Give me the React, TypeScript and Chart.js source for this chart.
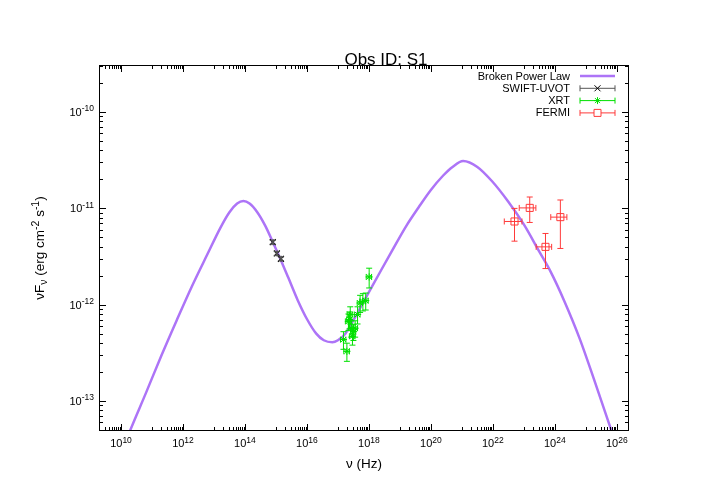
import React, { useEffect, useRef } from "react";
import { Chart, registerables } from "chart.js";

Chart.register(...registerables);

// ---------- data ----------
const titleText = "Obs ID: S1";
const xLabelText = "ν (Hz)";

// Broken power law model curve (Hz, erg cm^-2 s^-1)
const curveNu = [
  1.0e10, 2.0e10, 6.3e10, 2.0e11, 6.3e11, 2.0e12, 6.3e12, 1.58e13, 3.16e13, 5.6e13,
  8.9e13, 1.41e14, 2.5e14, 4.5e14, 7.9e14, 1.41e15, 2.5e15, 5.0e15, 1.0e16, 2.0e16,
  3.5e16, 6.6e16, 1.0e17, 1.74e17, 4.0e17, 1.0e18, 2.5e18, 5.5e18, 1.58e19, 4.0e19,
  1.0e20, 2.5e20, 5.0e20, 1.1e21, 3.16e21, 9.3e21, 3.16e22, 1.0e23, 3.16e23, 7.1e23,
  2.0e24, 6.3e24, 2.0e25, 6.9e25, 1.26e26,
];
const curveF = [
  2.82e-14, 5.0e-14, 1.2e-13, 2.95e-13, 6.9e-13, 1.58e-12, 3.39e-12, 6.2e-12, 9.1e-12, 1.12e-11,
  1.19e-11, 1.12e-11, 9.1e-12, 6.6e-12, 4.47e-12, 2.95e-12, 1.91e-12, 1.12e-12, 7.1e-13, 5.0e-13,
  4.27e-13, 4.07e-13, 4.27e-13, 5.0e-13, 7.9e-13, 1.35e-12, 2.29e-12, 3.59e-12, 6.5e-12, 1.02e-11,
  1.55e-11, 2.19e-11, 2.69e-11, 3.09e-11, 2.69e-11, 1.92e-11, 1.17e-11, 6.8e-12, 3.55e-12, 2.24e-12,
  1.1e-12, 4.47e-13, 1.55e-13, 4.8e-14, 2.7e-14,
];

// SWIFT-UVOT
const uvotNu = [7.9e14, 1.07e15, 1.45e15];
const uvotNuErr = [0.4e14, 0.5e14, 0.7e14];
const uvotF = [4.45e-12, 3.4e-12, 2.99e-12];
const uvotFErr = [0.2e-12, 0.15e-12, 0.13e-12];

// XRT
const xrtNu = [1.51e17, 1.95e17, 2.19e17, 2.36e17, 2.5e17, 2.69e17, 2.95e17, 3.17e17, 3.6e17, 4.3e17, 5.2e17, 6.4e17, 7.9e17, 1.02e18];
const xrtNuErr = [0.3e17, 0.4e17, 0.45e17, 0.45e17, 0.5e17, 0.5e17, 0.6e17, 0.6e17, 0.7e17, 0.9e17, 1.0e17, 1.3e17, 1.6e17, 2.0e17];
const xrtF = [4.34e-13, 3.28e-13, 6.7e-13, 7.0e-13, 7.9e-13, 5.7e-13, 4.7e-13, 5.25e-13, 5.7e-13, 7.9e-13, 1.04e-12, 1.08e-12, 1.1e-12, 1.94e-12];
const xrtFErr = [0.9e-13, 0.7e-13, 1.3e-13, 1.4e-13, 1.6e-13, 1.1e-13, 0.9e-13, 1.0e-13, 1.1e-13, 1.6e-13, 2.1e-13, 2.2e-13, 2.2e-13, 0.45e-12];

// FERMI
const fermiNu = [5.0e22, 1.55e23, 5.0e23, 1.51e24];
const fermiNuLo = [2.34e22, 7.1e22, 2.5e23, 7.4e23];
const fermiNuHi = [8.7e22, 2.45e23, 7.9e23, 2.45e24];
const fermiF = [7.3e-12, 1.01e-11, 3.98e-12, 8.1e-12];
const fermiFLo = [4.56e-12, 7.13e-12, 2.37e-12, 3.83e-12];
const fermiFHi = [9.98e-12, 1.31e-11, 5.48e-12, 1.22e-11];

// axes
const xMin = 2.1e9;
const xMax = 2.3e26;
const yMin = 5e-14;
const yMax = 3e-10;
const xMajorExp = [10, 12, 14, 16, 18, 20, 22, 24, 26];
const xMinorExp = [9, 11, 13, 15, 17, 19, 21, 23, 25];
const yMajorExp = [-13, -12, -11, -10];
const yMinorExp = [-14, -13, -12, -11, -10];

const legendLabels = ["Broken Power Law", "SWIFT-UVOT", "XRT", "FERMI"];

// ---------- style ----------
const FONT = '"Liberation Sans", Arial, Helvetica, sans-serif';
const PURPLE = "#ad74f7";
const GREEN = "#00e000";
const RED = "#ff3a3a";
const BLACK = "#000000";

function drawPow(ctx: CanvasRenderingContext2D, base: string, exp: string, x: number, y: number, align: string) {
  ctx.font = `11px ${FONT}`;
  const wb = ctx.measureText(base).width;
  ctx.font = `8.5px ${FONT}`;
  const we = ctx.measureText(exp).width;
  const total = wb + we;
  let sx = x;
  if (align === "center") sx = x - total / 2;
  else if (align === "right") sx = x - total;
  ctx.textAlign = "left";
  ctx.textBaseline = "alphabetic";
  ctx.font = `11px ${FONT}`;
  ctx.fillText(base, sx, y);
  ctx.font = `8.5px ${FONT}`;
  ctx.fillText(exp, sx + wb, y - 4.5);
}

function drawErr(
  ctx: CanvasRenderingContext2D, xs: any, ys: any,
  nu: number[], f: number[], nuLo: number[], nuHi: number[], fLo: number[], fHi: number[], color: string
) {
  ctx.save();
  ctx.strokeStyle = color;
  ctx.lineWidth = 1;
  const cap = 3;
  for (let i = 0; i < nu.length; i++) {
    const px = xs.getPixelForValue(nu[i]);
    const py = ys.getPixelForValue(f[i]);
    const x0 = xs.getPixelForValue(nuLo[i]);
    const x1 = xs.getPixelForValue(nuHi[i]);
    const y0 = ys.getPixelForValue(fLo[i]);
    const y1 = ys.getPixelForValue(fHi[i]);
    ctx.beginPath();
    ctx.moveTo(x0, py); ctx.lineTo(x1, py);
    ctx.moveTo(x0, py - cap); ctx.lineTo(x0, py + cap);
    ctx.moveTo(x1, py - cap); ctx.lineTo(x1, py + cap);
    ctx.moveTo(px, y0); ctx.lineTo(px, y1);
    ctx.moveTo(px - cap, y0); ctx.lineTo(px + cap, y0);
    ctx.moveTo(px - cap, y1); ctx.lineTo(px + cap, y1);
    ctx.stroke();
  }
  ctx.restore();
}

function markerPath(ctx: CanvasRenderingContext2D, kind: string, x: number, y: number) {
  ctx.beginPath();
  if (kind === "cross") {
    const a = 3;
    ctx.moveTo(x - a, y - a); ctx.lineTo(x + a, y + a);
    ctx.moveTo(x - a, y + a); ctx.lineTo(x + a, y - a);
  } else if (kind === "star") {
    const a = 3.5, b = 2.5;
    ctx.moveTo(x - a, y); ctx.lineTo(x + a, y);
    ctx.moveTo(x, y - a); ctx.lineTo(x, y + a);
    ctx.moveTo(x - b, y - b); ctx.lineTo(x + b, y + b);
    ctx.moveTo(x - b, y + b); ctx.lineTo(x + b, y - b);
  } else {
    ctx.rect(x - 3.5, y - 3.5, 7, 7);
  }
  ctx.stroke();
}

const framePlugin = {
  id: "gnuplotFrame",
  afterDatasetsDraw(chart: any) {
    const ctx: CanvasRenderingContext2D = chart.ctx;
    const xs = chart.scales.x;
    const ys = chart.scales.y;
    const a = chart.chartArea;

    // error bars
    drawErr(ctx, xs, ys, uvotNu, uvotF,
      uvotNu.map((v, i) => v - uvotNuErr[i]), uvotNu.map((v, i) => v + uvotNuErr[i]),
      uvotF.map((v, i) => v - uvotFErr[i]), uvotF.map((v, i) => v + uvotFErr[i]), "#555555");
    drawErr(ctx, xs, ys, xrtNu, xrtF,
      xrtNu.map((v, i) => v - xrtNuErr[i]), xrtNu.map((v, i) => v + xrtNuErr[i]),
      xrtF.map((v, i) => v - xrtFErr[i]), xrtF.map((v, i) => v + xrtFErr[i]), GREEN);
    drawErr(ctx, xs, ys, fermiNu, fermiF, fermiNuLo, fermiNuHi, fermiFLo, fermiFHi, RED);

    ctx.save();
    // border
    ctx.strokeStyle = BLACK;
    ctx.lineWidth = 1;
    ctx.strokeRect(a.left - 0.5, a.top - 0.5, a.right - a.left + 1, a.bottom - a.top + 1);

    // ticks
    const major = 6, minor = 3;
    ctx.beginPath();
    const xTick = (v: number, len: number) => {
      if (v < xMin || v > xMax) return;
      const px = Math.round(xs.getPixelForValue(v)) + 0.5;
      ctx.moveTo(px, a.bottom); ctx.lineTo(px, a.bottom - len);
      ctx.moveTo(px, a.top); ctx.lineTo(px, a.top + len);
    };
    const yTick = (v: number, len: number) => {
      if (v < yMin || v > yMax) return;
      const py = Math.round(ys.getPixelForValue(v)) + 0.5;
      ctx.moveTo(a.left, py); ctx.lineTo(a.left + len, py);
      ctx.moveTo(a.right, py); ctx.lineTo(a.right - len, py);
    };
    xMajorExp.forEach((e) => xTick(Math.pow(10, e), major));
    xMinorExp.forEach((e) => {
      for (let k = 1; k <= 9; k++) xTick(k * Math.pow(10, e), minor);
    });
    yMajorExp.forEach((e) => yTick(Math.pow(10, e), major));
    yMinorExp.forEach((e) => {
      for (let k = 2; k <= 9; k++) yTick(k * Math.pow(10, e), minor);
    });
    ctx.stroke();

    // tick labels
    ctx.fillStyle = BLACK;
    xMajorExp.forEach((e) => {
      const px = xs.getPixelForValue(Math.pow(10, e));
      drawPow(ctx, "10", String(e), px, a.bottom + 17, "center");
    });
    yMajorExp.forEach((e) => {
      const py = ys.getPixelForValue(Math.pow(10, e));
      drawPow(ctx, "10", String(e), a.left - 6, py + 4, "right");
    });

    // title
    ctx.font = `17px ${FONT}`;
    ctx.textAlign = "center";
    ctx.textBaseline = "alphabetic";
    ctx.fillText(titleText, 386, a.top - 1);

    // x label
    ctx.font = `13.5px ${FONT}`;
    ctx.fillText(xLabelText, (a.left + a.right) / 2, 468);

    // y label with sub/superscripts
    const pieces: [string, number][] = [
      ["νF", 0], ["ν", 1], [" (erg cm", 0], ["-2", 2], [" s", 0], ["-1", 2], [")", 0],
    ];
    const fontFor = (t: number) => (t === 0 ? `13.5px ${FONT}` : `10.5px ${FONT}`);
    let total = 0;
    pieces.forEach(([s, t]) => { ctx.font = fontFor(t); total += ctx.measureText(s).width; });
    ctx.save();
    ctx.translate(44, 248);
    ctx.rotate(-Math.PI / 2);
    ctx.textAlign = "left";
    let cx = -total / 2;
    pieces.forEach(([s, t]) => {
      ctx.font = fontFor(t);
      const dy = t === 1 ? 3 : t === 2 ? -5 : 0;
      ctx.fillText(s, cx, dy);
      cx += ctx.measureText(s).width;
    });
    ctx.restore();

    // legend
    const rows = [76, 88.3, 100.6, 112.9];
    const tx = 570, l0 = 580, l1 = 615, lm = 597.5;
    ctx.font = `11px ${FONT}`;
    ctx.textAlign = "right";
    ctx.textBaseline = "middle";
    legendLabels.forEach((lab, i) => {
      ctx.fillStyle = BLACK;
      ctx.fillText(lab, tx, rows[i] + 0.5);
    });
    // model sample
    ctx.strokeStyle = PURPLE;
    ctx.lineWidth = 2.5;
    ctx.beginPath();
    ctx.moveTo(l0, rows[0]); ctx.lineTo(l1, rows[0]);
    ctx.stroke();
    const samples: [string, string][] = [["#555555", "cross"], [GREEN, "star"], [RED, "square"]];
    samples.forEach(([col, kind], i) => {
      const y = rows[i + 1];
      ctx.strokeStyle = col;
      ctx.lineWidth = 1;
      ctx.beginPath();
      ctx.moveTo(l0, y); ctx.lineTo(l1, y);
      ctx.moveTo(l0, y - 3); ctx.lineTo(l0, y + 3);
      ctx.moveTo(l1, y - 3); ctx.lineTo(l1, y + 3);
      ctx.stroke();
      if (kind === "square") {
        ctx.fillStyle = "#ffffff";
        ctx.fillRect(lm - 3.5, y - 3.5, 7, 7);
      }
      ctx.strokeStyle = kind === "cross" ? BLACK : col;
      markerPath(ctx, kind, lm, y);
    });
    ctx.restore();
  },
};

export default function App() {
  const ref = useRef<HTMLCanvasElement | null>(null);
  useEffect(() => {
    if (!ref.current) return;
    const pts = (xs: number[], ys: number[]) => xs.map((x, i) => ({ x, y: ys[i] }));
    const chart = new Chart(ref.current, {
      type: "scatter",
      data: {
        datasets: [
          {
            label: "SWIFT-UVOT",
            data: pts(uvotNu, uvotF),
            pointStyle: "crossRot",
            pointRadius: 4.2,
            borderColor: BLACK,
            backgroundColor: "rgba(0,0,0,0)",
            borderWidth: 1.2,
            showLine: false,
          },
          {
            label: "XRT",
            data: pts(xrtNu, xrtF),
            pointStyle: "star",
            pointRadius: 3.6,
            borderColor: GREEN,
            backgroundColor: "rgba(0,0,0,0)",
            borderWidth: 1,
            showLine: false,
          },
          {
            label: "FERMI",
            data: pts(fermiNu, fermiF),
            pointStyle: "rect",
            pointRadius: 5,
            borderColor: RED,
            backgroundColor: "rgba(0,0,0,0)",
            borderWidth: 1,
            showLine: false,
          },
          {
            type: "line",
            label: "Broken Power Law",
            data: pts(curveNu, curveF),
            borderColor: PURPLE,
            borderWidth: 2.5,
            pointRadius: 0,
            fill: false,
            showLine: true,
            cubicInterpolationMode: "monotone",
            clip: 0,
          } as any,
        ],
      },
      options: {
        animation: false,
        responsive: false,
        events: [],
        layout: { padding: { left: 100, right: 83, top: 66, bottom: 73 } },
        scales: {
          x: { type: "logarithmic", min: xMin, max: xMax, display: false },
          y: { type: "logarithmic", min: yMin, max: yMax, display: false },
        },
        plugins: {
          legend: { display: false },
          tooltip: { enabled: false },
          title: { display: false },
        },
      },
      plugins: [framePlugin],
    });
    return () => chart.destroy();
  }, []);
  return (
    <div style={{ position: "fixed", left: 0, top: 0, width: 711, height: 503, background: "#ffffff" }}>
      <canvas ref={ref} width={711} height={503} style={{ display: "block", width: 711, height: 503 }} />
    </div>
  );
}
